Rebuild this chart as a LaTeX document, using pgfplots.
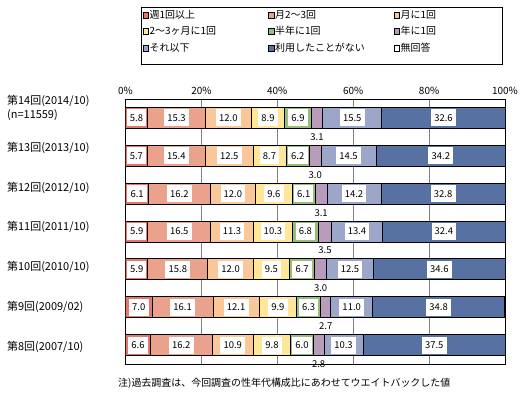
\documentclass[border=0pt]{standalone}
\usepackage{pgfplots}
\pgfplotsset{compat=1.18}
\usepackage{pgfplotstable}
\usepackage{fontspec}
\setmainfont{Noto Sans CJK JP}
\definecolor{c1}{RGB}{232,118,106}
\definecolor{c2}{RGB}{235,162,140}
\definecolor{c3}{RGB}{250,200,152}
\definecolor{c4}{RGB}{255,230,153}
\definecolor{c5}{RGB}{150,190,120}
\definecolor{c6}{RGB}{185,155,187}
\definecolor{c7}{RGB}{156,166,201}
\definecolor{c8}{RGB}{86,113,162}
\definecolor{c9}{RGB}{255,255,255}
\pgfplotstableread{
pos w1 w2 w3 w4 w5 w6 w7 w8 w9
7 5.8 15.3 12.0 8.9 6.9 3.1 15.5 32.6 0
6 5.7 15.4 12.5 8.7 6.2 3.0 14.5 34.2 0
5 6.1 16.2 12.0 9.6 6.1 3.1 14.2 32.8 0
4 5.9 16.5 11.3 10.3 6.8 3.5 13.4 32.4 0
3 5.9 15.8 12.0 9.5 6.7 3.0 12.5 34.6 0
2 7.0 16.1 12.1 9.9 6.3 2.7 11.0 34.8 0
1 6.6 16.2 10.9 9.8 6.0 2.8 10.3 37.5 0
}\data
\pgfplotsset{
  seg/.style={fill=#1, draw=black, line width=0.8bp},
  frame/.style={at={(125.5bp,33bp)}, anchor=south west,
    width=379.5bp, height=265bp, scale only axis,
    xmin=0, xmax=100, ymin=0.5, ymax=7.5},
  lab/.style={only marks, mark=none, nodes near coords={\pgfplotspointmeta},
    point meta=explicit symbolic,
    every node near coord/.append style={anchor=center,
      fill=white, inner xsep=3.2bp, inner ysep=0pt, minimum height=17bp, text=black,
      font=\fontsize{9.5}{9.5}\selectfont}},
  labbelow/.style={only marks, mark=none, nodes near coords={\pgfplotspointmeta},
    point meta=explicit symbolic,
    every node near coord/.append style={anchor=center, yshift=-19bp,
      inner sep=0pt, text=black, font=\fontsize{9.5}{9.5}\selectfont}},
}
\begin{document}
\begin{tikzpicture}[x=1bp,y=1bp]
\useasboundingbox (0,0) rectangle (527,397);
\begin{axis}[frame,
  xbar stacked, bar width=21bp,
  ytick=\empty, xtick={0,20,...,100},
  xticklabel pos=top,
  xticklabel={\pgfmathprintnumber[assume math mode=true]{\tick}\%},
  major tick length=0pt,
  xmajorgrids, grid style={draw={rgb,255:red,128;green,128;blue,128}, line width=0.8bp},
  axis line style={black, line width=0.8bp},
  tick label style={font=\fontsize{10}{10}\selectfont},
  xticklabel style={yshift=1bp},
  clip=true]
\addplot[seg=c1] table[x=w1, y=pos] {\data};
\addplot[seg=c2] table[x=w2, y=pos] {\data};
\addplot[seg=c3] table[x=w3, y=pos] {\data};
\addplot[seg=c4] table[x=w4, y=pos] {\data};
\addplot[seg=c5] table[x=w5, y=pos] {\data};
\addplot[seg=c6] table[x=w6, y=pos] {\data};
\addplot[seg=c7] table[x=w7, y=pos] {\data};
\addplot[seg=c8] table[x=w8, y=pos] {\data};
\addplot[seg=c9] table[x=w9, y=pos] {\data};
\end{axis}
% value labels at segment centres (same frame, not stacked)
\begin{axis}[frame, hide axis, clip=false]
\addplot[lab] table[x expr={\thisrow{w1}/2}, y=pos, meta=w1] {\data};
\addplot[lab] table[x expr={\thisrow{w1}+\thisrow{w2}/2}, y=pos, meta=w2] {\data};
\addplot[lab] table[x expr={\thisrow{w1}+\thisrow{w2}+\thisrow{w3}/2}, y=pos, meta=w3] {\data};
\addplot[lab] table[x expr={\thisrow{w1}+\thisrow{w2}+\thisrow{w3}+\thisrow{w4}/2}, y=pos, meta=w4] {\data};
\addplot[lab] table[x expr={\thisrow{w1}+\thisrow{w2}+\thisrow{w3}+\thisrow{w4}+\thisrow{w5}/2}, y=pos, meta=w5] {\data};
\addplot[labbelow] table[x expr={\thisrow{w1}+\thisrow{w2}+\thisrow{w3}+\thisrow{w4}+\thisrow{w5}+\thisrow{w6}/2}, y=pos, meta=w6] {\data};
\addplot[lab] table[x expr={\thisrow{w1}+\thisrow{w2}+\thisrow{w3}+\thisrow{w4}+\thisrow{w5}+\thisrow{w6}+\thisrow{w7}/2}, y=pos, meta=w7] {\data};
\addplot[lab] table[x expr={\thisrow{w1}+\thisrow{w2}+\thisrow{w3}+\thisrow{w4}+\thisrow{w5}+\thisrow{w6}+\thisrow{w7}+\thisrow{w8}/2}, y=pos, meta=w8] {\data};
\end{axis}
% legend
\draw[line width=0.8bp] (141,390) rectangle (502,333);
\foreach \c/\t/\x/\y in {c1/週1回以上/143/382, c2/月2〜3回/268.5/382, c3/月に1回/394/382,
  c4/2〜3ヶ月に1回/143/366, c5/半年に1回/268.5/366, c6/年に1回/394/366,
  c7/それ以下/143/349, c8/利用したことがない/268.5/349, c9/無回答/394/349}{
  \draw[fill=\c, draw=black, line width=0.4bp] (\x,\y-2.8) rectangle (\x+5.6,\y+2.8);
  \node[anchor=west, inner sep=0pt, font=\fontsize{10}{10}\selectfont] at (\x+6.5,\y) {\t};
}
% category labels
\begin{scope}[every node/.style={anchor=west, inner sep=0pt, font=\fontsize{11}{11}\selectfont}]
\node at (7,296) {第14回(2014/10)};
\node at (7,282) {(n=11559)};
\node at (7,249.5) {第13回(2013/10)};
\node at (7,209.5) {第12回(2012/10)};
\node at (7,170.5) {第11回(2011/10)};
\node at (7,130) {第10回(2010/10)};
\node at (7,90) {第9回(2009/02)};
\node at (7,50) {第8回(2007/10)};
\node[font=\fontsize{10}{10}\selectfont] at (118,14) {注)過去調査は、今回調査の性年代構成比にあわせてウエイトバックした値};
\end{scope}
\end{tikzpicture}
\end{document}
